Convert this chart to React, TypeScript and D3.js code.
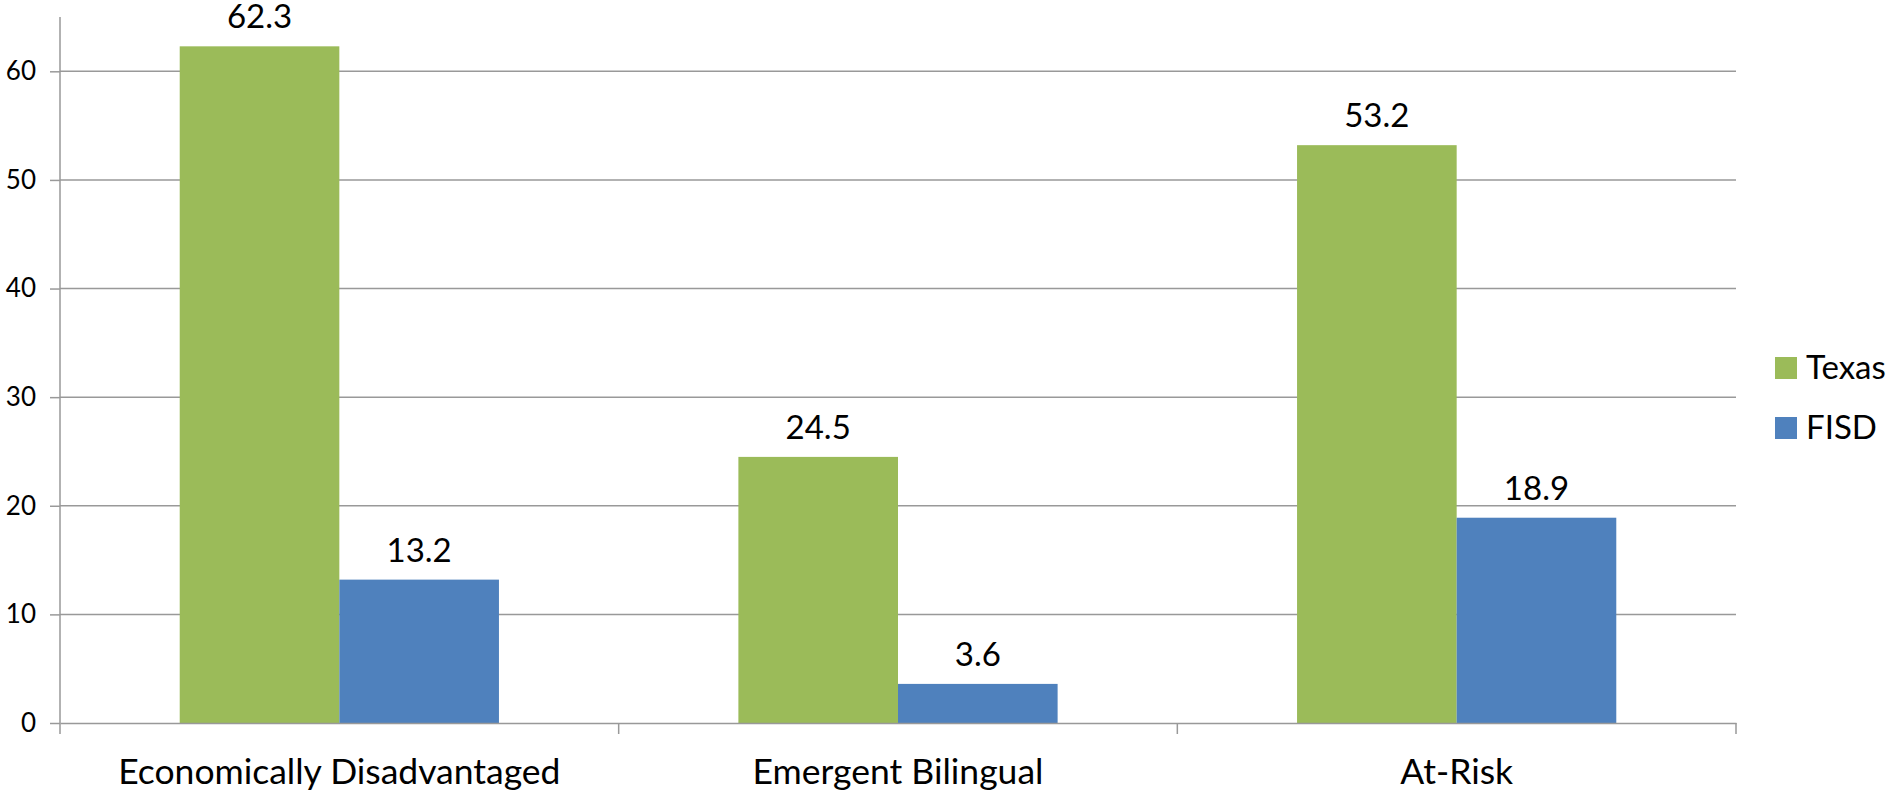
import React, { useRef, useEffect } from "react";
import * as d3 from "d3";

// chart data
const categories = ["Economically Disadvantaged", "Emergent Bilingual", "At-Risk"];
const seriesNames = ["Texas", "FISD"];
const texasValues = [62.3, 24.5, 53.2];
const fisdValues = [13.2, 3.6, 18.9];
const yTicks = [0, 10, 20, 30, 40, 50, 60];
const colors = ["#9BBB59", "#4F81BD"];

export default function App() {
  const svgRef = useRef<SVGSVGElement>(null);

  useEffect(() => {
    if (!svgRef.current) return;
    const svg = d3.select(svgRef.current);
    svg.selectAll("*").remove();

    const width = 1894;
    const height = 791;
    const margin = { top: 17, right: 158, bottom: 68, left: 60 };
    const font = "Lato, 'Open Sans', sans-serif";
    const axisColor = "#999999";

    const x = d3.scaleBand<string>()
      .domain(categories)
      .range([margin.left, width - margin.right]);

    const xInner = d3.scaleBand<string>()
      .domain(seriesNames)
      .range([0, x.bandwidth()])
      .paddingOuter(0.75);

    const y = d3.scaleLinear()
      .domain([0, 65])
      .range([height - margin.bottom, margin.top]);

    const values = [texasValues, fisdValues];

    // gridlines
    svg.append("g")
      .selectAll("line")
      .data(yTicks.filter(d => d > 0))
      .join("line")
      .attr("x1", margin.left)
      .attr("x2", width - margin.right)
      .attr("y1", d => y(d))
      .attr("y2", d => y(d))
      .attr("stroke", axisColor)
      .attr("stroke-width", 1.5);

    // bars
    seriesNames.forEach((name, si) => {
      const g = svg.append("g");
      g.selectAll("rect")
        .data(values[si])
        .join("rect")
        .attr("x", (_, i) => x(categories[i])! + xInner(name)!)
        .attr("width", xInner.bandwidth())
        .attr("y", d => y(d))
        .attr("height", d => y(0) - y(d))
        .attr("fill", colors[si]);

      g.selectAll("text")
        .data(values[si])
        .join("text")
        .attr("x", (_, i) => x(categories[i])! + xInner(name)! + xInner.bandwidth() / 2)
        .attr("y", d => y(d) - 18)
        .attr("text-anchor", "middle")
        .attr("font-family", font)
        .attr("font-size", 33)
        .attr("fill", "#000")
        .text(d => d.toFixed(1));
    });

    // y axis
    const yAxis = svg.append("g")
      .attr("transform", `translate(${margin.left},0)`)
      .call(d3.axisLeft(y).tickValues(yTicks).tickSize(10).tickPadding(14));
    yAxis.select(".domain").attr("stroke", axisColor).attr("stroke-width", 1.5)
      .attr("d", `M0,${margin.top}V${y(0) + 11}`);
    yAxis.selectAll(".tick line").attr("stroke", axisColor).attr("stroke-width", 1.5);
    yAxis.selectAll(".tick text")
      .attr("font-family", font)
      .attr("font-size", 26)
      .attr("fill", "#000");

    // x axis
    const xAxis = svg.append("g")
      .attr("transform", `translate(0,${y(0)})`)
      .call(d3.axisBottom(x).tickSize(0).tickPadding(0));
    xAxis.select(".domain").attr("stroke", axisColor).attr("stroke-width", 1.5);
    xAxis.selectAll(".tick text")
      .attr("font-family", font)
      .attr("font-size", 35.5)
      .attr("fill", "#000")
      .attr("dy", null)
      .attr("y", 61);
    // category separators
    xAxis.append("g")
      .selectAll("line")
      .data(categories.slice(1).concat(["end"]))
      .join("line")
      .attr("x1", (d, i) => (i < 2 ? x(d)! : width - margin.right))
      .attr("x2", (d, i) => (i < 2 ? x(d)! : width - margin.right))
      .attr("y1", 0)
      .attr("y2", 11)
      .attr("stroke", axisColor)
      .attr("stroke-width", 1.5);

    // legend
    const legend = svg.append("g")
      .attr("transform", `translate(1775,357)`);
    seriesNames.forEach((name, i) => {
      legend.append("rect")
        .attr("x", 0)
        .attr("y", i * 60)
        .attr("width", 22)
        .attr("height", 22)
        .attr("fill", colors[i]);
      legend.append("text")
        .attr("x", 31)
        .attr("y", i * 60 + 22)
        .attr("font-family", font)
        .attr("font-size", 33)
        .attr("fill", "#000")
        .text(name);
    });
  }, []);

  return (
    <svg
      ref={svgRef}
      width={1894}
      height={791}
      viewBox="0 0 1894 791"
      style={{ position: "absolute", left: 0, top: 0, background: "#fff" }}
    />
  );
}
